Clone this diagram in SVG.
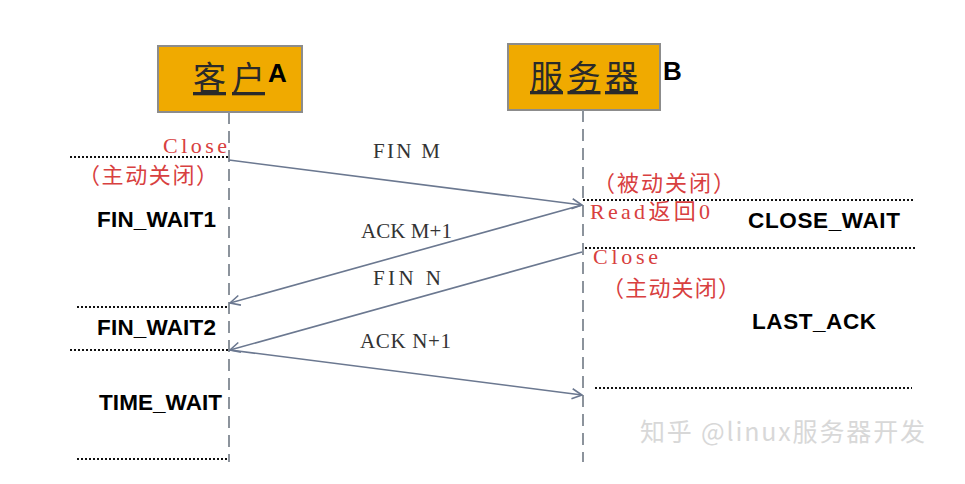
<svg xmlns="http://www.w3.org/2000/svg" width="965" height="484" viewBox="0 0 965 484">
<style>
.box{fill:#F0AA00;stroke:#8C8C8C;stroke-width:2}
.cn{font-family:"Noto Sans CJK SC",serif;font-size:33px;fill:#2a2a2a;text-decoration:underline}
.lbl{font-family:"Liberation Sans",Arial,sans-serif;font-weight:bold;font-size:26px;fill:#000}
.st{font-family:"Liberation Sans",Arial,sans-serif;font-weight:bold;font-size:22.5px;fill:#000}
.red{font-family:"Liberation Serif","Noto Sans CJK SC",serif;font-size:22px;fill:#D84040}
.msg{font-family:"Liberation Serif",serif;font-size:21px;fill:#333}
.life{stroke:#8C939C;stroke-width:2;stroke-dasharray:12,7;fill:none}
.dot{stroke:#111;stroke-width:2;stroke-dasharray:2,2;fill:none}
.arr{stroke:#6B7890;stroke-width:1.6;fill:none}
.wm{font-family:"Noto Sans CJK SC",sans-serif;font-size:25px;fill:#D8D8D8}
</style>
<defs>
<marker id="ah" viewBox="0 0 12 12" refX="11" refY="6" markerWidth="12" markerHeight="12" markerUnits="userSpaceOnUse" orient="auto-start-reverse">
<path d="M1,1 L11,6 L1,11" fill="none" stroke="#6B7890" stroke-width="1.6"/>
</marker>
</defs>
<rect width="965" height="484" fill="#fff"/>
<g id="nodeA">
<rect class="box" x="158" y="46" width="144" height="66"/>
<text class="cn" x="193" y="90" textLength="72">客户</text>
<text class="lbl" x="268" y="82">A</text>
</g>
<g id="nodeB">
<rect class="box" x="508" y="44" width="152" height="66"/>
<text class="cn" x="530" y="89" textLength="108">服务器</text>
<text class="lbl" x="663" y="80">B</text>
</g>
<g id="lifelines">
<line class="life" x1="229" y1="112" x2="229" y2="462"/>
<line class="life" x1="583" y1="110" x2="583" y2="462"/>
</g>
<g id="states">
<line class="dot" x1="70" y1="157" x2="228" y2="157"/>
<line class="dot" x1="77" y1="307" x2="228" y2="307"/>
<line class="dot" x1="70" y1="350" x2="228" y2="350"/>
<line class="dot" x1="77" y1="459" x2="228" y2="459"/>
<line class="dot" x1="583" y1="200" x2="915" y2="200"/>
<line class="dot" x1="585" y1="248" x2="915" y2="248"/>
<line class="dot" x1="595" y1="388" x2="912" y2="388"/>
<text class="red" x="163" y="153" textLength="64">Close</text>
<text class="red" x="78" y="183" textLength="140">（主动关闭）</text>
<text class="st" x="97" y="227" textLength="119">FIN_WAIT1</text>
<text class="st" x="97" y="335" textLength="119">FIN_WAIT2</text>
<text class="st" x="99" y="410" textLength="123">TIME_WAIT</text>
<text class="red" x="593" y="191" textLength="142">（被动关闭）</text>
<text class="red" x="590" y="219" textLength="120">Read返回0</text>
<text class="st" x="748" y="228" textLength="152">CLOSE_WAIT</text>
<text class="red" x="593" y="264" textLength="65">Close</text>
<text class="red" x="602" y="296" textLength="138">（主动关闭）</text>
<text class="st" x="752" y="329" textLength="124">LAST_ACK</text>
</g>
<g id="connectors">
<line class="arr" x1="229" y1="160" x2="582" y2="205" marker-end="url(#ah)"/>
<line class="arr" x1="582" y1="205" x2="230" y2="303" marker-end="url(#ah)"/>
<line class="arr" x1="582" y1="252" x2="230" y2="350" marker-end="url(#ah)"/>
<line class="arr" x1="230" y1="350" x2="582" y2="395" marker-end="url(#ah)"/>
<text class="msg" x="373" y="158" textLength="67">FIN M</text>
<text class="msg" x="361" y="238" textLength="91">ACK M+1</text>
<text class="msg" x="373" y="285" textLength="68">FIN N</text>
<text class="msg" x="360" y="348" textLength="91">ACK N+1</text>
</g>
<text class="wm" x="640" y="441" textLength="285">知乎 @linux服务器开发</text>
</svg>
